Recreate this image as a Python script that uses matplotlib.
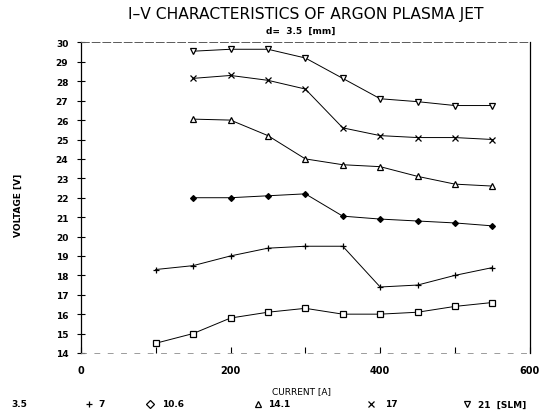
import numpy as np
import matplotlib
matplotlib.use("Agg")
from matplotlib import pyplot as plt
from matplotlib.lines import Line2D

# argon flow rates [SLM] and measured I-V points
flows = ["3.5", "7", "10.6", "14.1", "17", "21"]
markers = ["s", "+", "D", "^", "x", "v"]

current_a = [100, 150, 200, 250, 300, 350, 400, 450, 500, 550]
current_b = [150, 200, 250, 300, 350, 400, 450, 500, 550]

v_35 = [14.5, 15.0, 15.8, 16.1, 16.3, 16.0, 16.0, 16.1, 16.4, 16.6]
v_7 = [18.3, 18.5, 19.0, 19.4, 19.5, 19.5, 17.4, 17.5, 18.0, 18.4]
v_106 = [22.0, 22.0, 22.1, 22.2, 21.05, 20.9, 20.8, 20.7, 20.55]
v_141 = [26.05, 26.0, 25.2, 24.0, 23.7, 23.6, 23.1, 22.7, 22.6]
v_17 = [28.15, 28.3, 28.05, 27.6, 25.6, 25.2, 25.1, 25.1, 25.0]
v_21 = [29.55, 29.65, 29.65, 29.2, 28.15, 27.1, 26.95, 26.75, 26.75]

series = [(current_a, v_35), (current_a, v_7), (current_b, v_106),
          (current_b, v_141), (current_b, v_17), (current_b, v_21)]

fig = plt.figure(figsize=(5.39, 4.14), dpi=100)
ax = fig.add_axes([0.150, 0.145, 0.833, 0.750])

msize = {"s": 4.8, "+": 5, "D": 3, "^": 4, "x": 4.2, "v": 4.3}
for (x, y), m in zip(series, markers):
    filled = m in ("D",)
    ax.plot(x, y, color="black", lw=0.7, marker=m, ms=msize[m],
            mfc="black" if filled else "white", mec="black", mew=0.9)

ax.set_xlim(0, 600)
ax.set_ylim(14, 30)
ax.set_xticks([0, 200, 400, 600])
ax.set_xticks([100, 300, 500], minor=True)
ax.set_yticks(np.arange(14, 31, 1))
ax.tick_params(axis="y", direction="inout", length=6, width=0.8,
               labelsize=6.5, pad=6)
ax.tick_params(axis="x", which="both", direction="in", length=4, width=0.8,
               labelsize=7, pad=9)
for lbl in ax.get_yticklabels() + ax.get_xticklabels():
    lbl.set_fontweight("bold")

ax.spines["left"].set_linewidth(0.9)
ax.spines["right"].set_linewidth(0.9)
ax.spines["top"].set_linestyle((0, (8, 3)))
ax.spines["top"].set_linewidth(0.7)
ax.spines["top"].set_color("0.35")
ax.spines["bottom"].set_linestyle((0, (6, 10)))
ax.spines["bottom"].set_linewidth(0.6)
ax.spines["bottom"].set_color("0.55")

fig.text(0.567, 0.966, "I\u2013V CHARACTERISTICS OF ARGON PLASMA JET",
         ha="center", va="center", fontsize=11.2)
fig.text(0.557, 0.925, "d=  3.5  [mm]", ha="center", va="center",
         fontsize=6.5, fontweight="bold")
fig.text(0.560, 0.053, "CURRENT [A]", ha="center", va="center",
         fontsize=6.5)
fig.text(0.034, 0.505, "VOLTAGE [V]", ha="center", va="center",
         rotation=90, fontsize=6.5, fontweight="bold")

# flow-rate key along the bottom
key_mark_x = [None, 0.165, 0.278, 0.478, 0.688, 0.866]
key_text_x = [0.022, 0.183, 0.300, 0.497, 0.715, 0.887]
key_y = 0.022
for i, f in enumerate(flows):
    label = f + ("  [SLM]" if i == len(flows) - 1 else "")
    fig.text(key_text_x[i], key_y, label, ha="left", va="center",
             fontsize=6.5, fontweight="bold")
    if key_mark_x[i] is not None:
        m = markers[i]
        fig.add_artist(Line2D([key_mark_x[i]], [key_y], marker=m,
                              ms=4.5, color="black",
                              mfc="white", mew=0.9, ls="none",
                              transform=fig.transFigure))

fig.savefig("out.png", dpi=100)
